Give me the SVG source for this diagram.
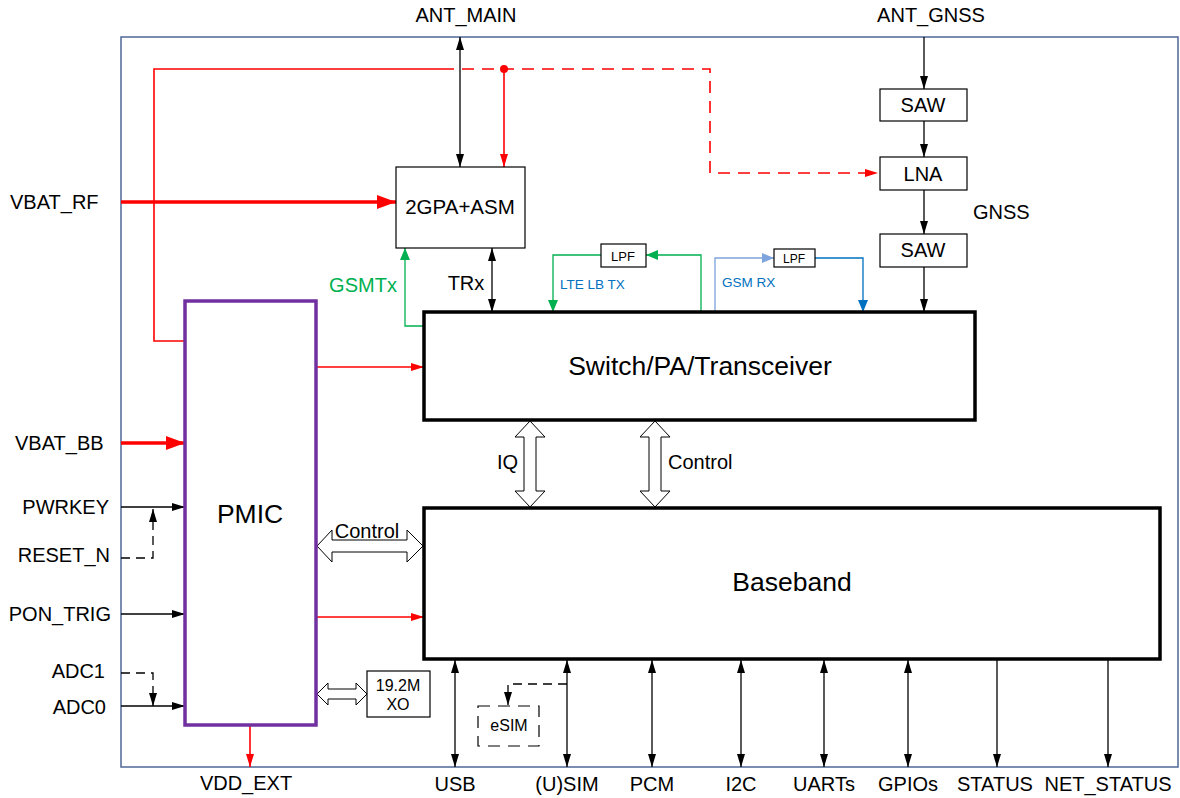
<svg xmlns="http://www.w3.org/2000/svg" width="1180" height="798" viewBox="0 0 1180 798">
<style>
text{font-family:"Liberation Sans",Arial,sans-serif;fill:#000}
.l{font-size:20px}
.big{font-size:26.5px}
.sm{font-size:13.5px}
.box{fill:#fff;stroke:#000;stroke-width:1.2}
.thick{fill:#fff;stroke:#000;stroke-width:3.5}
.blk{stroke:#000;stroke-width:1.3;fill:none}
.red{stroke:#f00;stroke-width:1.6;fill:none}
.dash{stroke-dasharray:12 8}
.hollow{fill:#fff;stroke:#000;stroke-width:1}
</style>
<defs>
<marker id="ab" viewBox="0 0 13 8" refX="13" refY="4" markerWidth="13" markerHeight="8" markerUnits="userSpaceOnUse" orient="auto-start-reverse"><path d="M0,0L13,4L0,8z" fill="#000"/></marker>
<marker id="ar" viewBox="0 0 13 8" refX="13" refY="4" markerWidth="13" markerHeight="8" markerUnits="userSpaceOnUse" orient="auto-start-reverse"><path d="M0,0L13,4L0,8z" fill="#f00"/></marker>
<marker id="arb" viewBox="0 0 19 14" refX="19" refY="7" markerWidth="19" markerHeight="14" markerUnits="userSpaceOnUse" orient="auto"><path d="M0,0L19,7L0,14z" fill="#f00"/></marker>
<marker id="ag" viewBox="0 0 12 10" refX="12" refY="5" markerWidth="12" markerHeight="10" markerUnits="userSpaceOnUse" orient="auto"><path d="M0,0L12,5L0,10z" fill="#00b050"/></marker>
<marker id="abl" viewBox="0 0 12 10" refX="12" refY="5" markerWidth="12" markerHeight="10" markerUnits="userSpaceOnUse" orient="auto"><path d="M0,0L12,5L0,10z" fill="#0070c0"/></marker>
<marker id="albl" viewBox="0 0 12 10" refX="12" refY="5" markerWidth="12" markerHeight="10" markerUnits="userSpaceOnUse" orient="auto"><path d="M0,0L12,5L0,10z" fill="#7fa3dc"/></marker>
</defs>
<rect width="1180" height="798" fill="#fff"/>
<rect id="frame" x="121" y="37" width="1057" height="730" fill="none" stroke="#4f6797" stroke-width="1.5"/>

<g id="connectors">
<polyline class="red" points="185,341 154,341 154,69 442,69"/>
<polyline class="red dash" points="442,69 710,69 710,173 878,173" marker-end="url(#ar)"/>
<circle cx="504" cy="69" r="4" fill="#f00"/>
<line class="red" x1="504" y1="69" x2="504" y2="167" marker-end="url(#ar)"/>
<line x1="121" y1="202" x2="396" y2="202" stroke="#f00" stroke-width="3.5" marker-end="url(#arb)"/>
<line x1="121" y1="443" x2="185" y2="443" stroke="#f00" stroke-width="3.5" marker-end="url(#arb)"/>
<line class="red" x1="316" y1="367" x2="424" y2="367" marker-end="url(#ar)"/>
<line class="red" x1="316" y1="617" x2="424" y2="617" marker-end="url(#ar)"/>
<line class="red" x1="250" y1="725" x2="250" y2="767" marker-end="url(#ar)"/>
<line class="blk" x1="460" y1="37" x2="460" y2="167" marker-start="url(#ab)" marker-end="url(#ab)"/>
<line class="blk" x1="492" y1="248" x2="492" y2="312" stroke-width="1.6" marker-start="url(#ab)" marker-end="url(#ab)"/>
<polyline points="424,326 405,326 405,248" fill="none" stroke="#00b050" stroke-width="1.3" marker-end="url(#ag)"/>
<polyline points="701,312 701,255 646,255" fill="none" stroke="#00b050" stroke-width="1.3" marker-end="url(#ag)"/>
<polyline points="601,255 553,255 553,312" fill="none" stroke="#00b050" stroke-width="1.3" marker-end="url(#ag)"/>
<polyline points="715,312 715,258 774,258" fill="none" stroke="#7fa3dc" stroke-width="1.3" marker-end="url(#albl)"/>
<polyline points="815,258 863,258 863,312" fill="none" stroke="#0070c0" stroke-width="1.3" marker-end="url(#abl)"/>
<line class="blk" x1="924" y1="37" x2="924" y2="89" marker-end="url(#ab)"/>
<line class="blk" x1="924" y1="121" x2="924" y2="157" marker-end="url(#ab)"/>
<line class="blk" x1="924" y1="190" x2="924" y2="234" marker-end="url(#ab)"/>
<line class="blk" x1="924" y1="267" x2="924" y2="312" marker-end="url(#ab)"/>
<line class="blk" x1="121" y1="507" x2="185" y2="507" marker-end="url(#ab)"/>
<polyline class="blk" points="121,558 153,558 153,509" stroke-dasharray="9 6" marker-end="url(#ab)"/>
<line class="blk" x1="121" y1="614" x2="185" y2="614" marker-end="url(#ab)"/>
<polyline class="blk" points="121,673 153,673 153,706" stroke-dasharray="9 6" marker-end="url(#ab)"/>
<line class="blk" x1="121" y1="706" x2="185" y2="706" marker-end="url(#ab)"/>
<path class="hollow" d="M530,421L545,437L536,437L536,491L545,491L530,507L515,491L524,491L524,437L515,437Z"/>
<path class="hollow" d="M655,421L670,437L661,437L661,491L670,491L655,507L640,491L649,491L649,437L640,437Z"/>
<path class="hollow" d="M317,546L332,530L332,540L407,540L407,530L423,546L407,562L407,552L332,552L332,562Z"/>
<path class="hollow" d="M317,694L328,683L328,689L356,689L356,683L367,694L356,705L356,699L328,699L328,705Z"/>
<line class="blk" x1="455" y1="660" x2="455" y2="767" marker-start="url(#ab)" marker-end="url(#ab)"/>
<line class="blk" x1="567" y1="660" x2="567" y2="767" marker-start="url(#ab)" marker-end="url(#ab)"/>
<line class="blk" x1="652" y1="660" x2="652" y2="767" marker-start="url(#ab)" marker-end="url(#ab)"/>
<line class="blk" x1="741" y1="660" x2="741" y2="767" marker-start="url(#ab)" marker-end="url(#ab)"/>
<line class="blk" x1="824" y1="660" x2="824" y2="767" marker-start="url(#ab)" marker-end="url(#ab)"/>
<line class="blk" x1="908" y1="660" x2="908" y2="767" marker-start="url(#ab)" marker-end="url(#ab)"/>
<line class="blk" x1="997" y1="660" x2="997" y2="767" marker-end="url(#ab)"/>
<line class="blk" x1="1108" y1="660" x2="1108" y2="767" marker-end="url(#ab)"/>
<polyline class="blk" points="567,684 508,684 508,705" stroke-dasharray="9 6" marker-end="url(#ab)"/>
</g>

<g id="pa-asm"><rect class="box" x="396" y="167" width="129" height="81"/><text x="460" y="214" font-size="20.5" text-anchor="middle">2GPA+ASM</text></g>
<g id="lpf-tx"><rect class="box" x="601" y="244" width="45" height="23"/><text x="623" y="261" font-size="13" text-anchor="middle">LPF</text></g>
<g id="lpf-rx"><rect class="box" x="774" y="249" width="41" height="18"/><text x="794" y="263" font-size="12" text-anchor="middle">LPF</text></g>
<g id="saw1"><rect class="box" x="880" y="89" width="87" height="32"/><text class="l" x="923" y="112" text-anchor="middle">SAW</text></g>
<g id="lna"><rect class="box" x="880" y="157" width="87" height="33"/><text class="l" x="923" y="181" text-anchor="middle">LNA</text></g>
<g id="saw2"><rect class="box" x="880" y="234" width="87" height="33"/><text class="l" x="923" y="257" text-anchor="middle">SAW</text></g>
<g id="transceiver"><rect class="thick" x="424" y="312" width="551" height="108"/><text class="big" x="700" y="375" text-anchor="middle">Switch/PA/Transceiver</text></g>
<g id="baseband"><rect class="thick" x="424" y="508" width="736" height="151"/><text class="big" x="792" y="591" text-anchor="middle">Baseband</text></g>
<g id="pmic"><rect x="185" y="301" width="131" height="424" fill="#fff" stroke="#7030a0" stroke-width="3.5"/><text x="250" y="523" font-size="26.5" text-anchor="middle">PMIC</text></g>
<g id="xo"><rect class="box" x="367" y="671" width="63" height="46"/><text x="398" y="691" font-size="16" text-anchor="middle">19.2M</text><text x="398" y="710" font-size="16" text-anchor="middle">XO</text></g>
<g id="esim"><rect x="478" y="706" width="61" height="40" fill="none" stroke="#000" stroke-width="1.2" stroke-dasharray="12 8"/><text x="509" y="731" font-size="16" text-anchor="middle">eSIM</text></g>

<g id="labels">
<text class="l" x="466" y="22" text-anchor="middle">ANT_MAIN</text>
<text class="l" x="931" y="22" text-anchor="middle">ANT_GNSS</text>
<text class="l" x="10" y="209">VBAT_RF</text>
<text class="l" x="363" y="292" text-anchor="middle" style="fill:#00b050">GSMTx</text>
<text class="l" x="466" y="290" text-anchor="middle">TRx</text>
<text class="sm" x="560" y="289" style="fill:#0070c0">LTE LB TX</text>
<text class="sm" x="722" y="287" style="fill:#0070c0">GSM RX</text>
<text class="l" x="973" y="219">GNSS</text>
<text class="l" x="497" y="469">IQ</text>
<text class="l" x="668" y="469">Control</text>
<text class="l" x="367" y="538" text-anchor="middle">Control</text>
<text class="l" x="15" y="450">VBAT_BB</text>
<text class="l" x="109" y="514" text-anchor="end">PWRKEY</text>
<text class="l" x="110" y="562" text-anchor="end">RESET_N</text>
<text class="l" x="111" y="621" text-anchor="end">PON_TRIG</text>
<text class="l" x="105" y="678" text-anchor="end">ADC1</text>
<text class="l" x="106" y="714" text-anchor="end">ADC0</text>
<text class="l" x="246" y="790" text-anchor="middle">VDD_EXT</text>
<text class="l" x="455" y="791" text-anchor="middle">USB</text>
<text class="l" x="567" y="791" text-anchor="middle">(U)SIM</text>
<text class="l" x="652" y="791" text-anchor="middle">PCM</text>
<text class="l" x="741" y="791" text-anchor="middle">I2C</text>
<text class="l" x="824" y="791" text-anchor="middle">UARTs</text>
<text class="l" x="908" y="791" text-anchor="middle">GPIOs</text>
<text class="l" x="995" y="791" text-anchor="middle">STATUS</text>
<text class="l" x="1108" y="791" text-anchor="middle">NET_STATUS</text>
</g>
</svg>
